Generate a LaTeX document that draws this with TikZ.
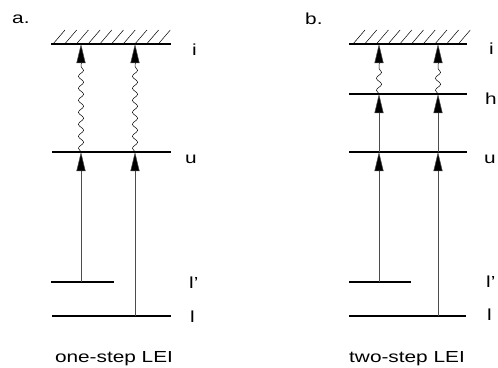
\documentclass[tikz,border=0pt]{standalone}
\usepackage{fontspec}
\setmainfont{Liberation Sans}[FakeStretch=1.3]
\usetikzlibrary{arrows.meta,decorations.pathmorphing}
\begin{document}
\begin{tikzpicture}[x=1pt,y=-1pt,
  level/.style={line width=1.1pt},
  hatchline/.style={line width=0.5pt},
  uparrow/.style={line width=0.5pt,draw=black!70,-{Triangle[length=19pt,width=9pt,fill=black]}},
  wave/.style={line width=0.5pt,decorate,decoration={snake,amplitude=2.6pt,segment length=12pt}},
  lab/.style={anchor=base west,font=\fontsize{16}{18}\selectfont,inner sep=0pt},
  captext/.style={anchor=base,font=\fontsize{16}{18}\selectfont,inner sep=0pt},
  panel/.style={anchor=base west,font=\fontsize{16}{18}\selectfont,inner sep=0pt}]
\useasboundingbox (0,0) rectangle (498,367);

% ---------- panel a ----------
\node[panel] (pa) at (12,23) {a.};
\coordinate (aiL) at (51,44);  \coordinate (aiR) at (171,44);
\coordinate (auL) at (52,152); \coordinate (auR) at (171,152);
\coordinate (alpL) at (51,282); \coordinate (alpR) at (114,282);
\coordinate (alL) at (52,316); \coordinate (alR) at (171,316);
\draw[level] (aiL) -- (aiR);
\draw[level] (auL) -- (auR);
\draw[level] (alpL) -- (alpR);
\draw[level] (alL) -- (alR);
\foreach \k in {0,...,9}{
  \draw[hatchline] (53+\k*11.7,44) -- (65+\k*11.7,30);
}
\node[lab] (ai) at (192,55) {i};
\node[lab] (au) at (185,163) {u};
\node[lab] (alp) at (189,288) {l’};
\node[lab] (al) at (190,322) {l};
% columns
\coordinate (a1lp) at (81,282); \coordinate (a1u) at (81,152);
\coordinate (a1w) at (81,64);   \coordinate (a1i) at (81,44);
\coordinate (a2l) at (135,316); \coordinate (a2u) at (135,152);
\coordinate (a2w) at (135,64);  \coordinate (a2i) at (135,44);
\draw[uparrow] (a1lp) -- (a1u);
\draw[uparrow] (a2l) -- (a2u);
\draw[wave] (a1u) -- (a1w);
\draw[wave] (a2u) -- (a2w);
\draw[uparrow] (a1w) -- (a1i);
\draw[uparrow] (a2w) -- (a2i);
\node[captext] (ca) at (114,362) {one-step LEI};

% ---------- panel b ----------
\node[panel] (pb) at (305,24) {b.};
\coordinate (biL) at (349,44);  \coordinate (biR) at (467,44);
\coordinate (bhL) at (349,94);  \coordinate (bhR) at (467,94);
\coordinate (buL) at (349,152); \coordinate (buR) at (467,152);
\coordinate (blpL) at (349,282); \coordinate (blpR) at (411,282);
\coordinate (blL) at (349,316); \coordinate (blR) at (466,316);
\draw[level] (biL) -- (biR);
\draw[level] (bhL) -- (bhR);
\draw[level] (buL) -- (buR);
\draw[level] (blpL) -- (blpR);
\draw[level] (blL) -- (blR);
\foreach \k in {0,...,9}{
  \draw[hatchline] (353+\k*11.7,44) -- (365+\k*11.7,30);
}
\node[lab] (bi) at (489,54) {i};
\node[lab] (bh) at (485,104) {h};
\node[lab] (bu) at (484,163) {u};
\node[lab] (blp) at (486,287) {l’};
\node[lab] (bl) at (487,320) {l};
\coordinate (b1lp) at (379,282); \coordinate (b1u) at (379,152);
\coordinate (b1h) at (379,94);
\coordinate (b1w) at (379,64);   \coordinate (b1i) at (379,44);
\coordinate (b2l) at (438,316);  \coordinate (b2u) at (438,152);
\coordinate (b2h) at (438,94);
\coordinate (b2w) at (438,64);   \coordinate (b2i) at (438,44);
\draw[uparrow] (b1lp) -- (b1u);
\draw[uparrow] (b2l) -- (b2u);
\draw[uparrow] (b1u) -- (b1h);
\draw[uparrow] (b2u) -- (b2h);
\draw[wave] (b1h) -- (b1w);
\draw[wave] (b2h) -- (b2w);
\draw[uparrow] (b1w) -- (b1i);
\draw[uparrow] (b2w) -- (b2i);
\node[captext] (cb) at (407,362) {two-step LEI};
\end{tikzpicture}
\end{document}
